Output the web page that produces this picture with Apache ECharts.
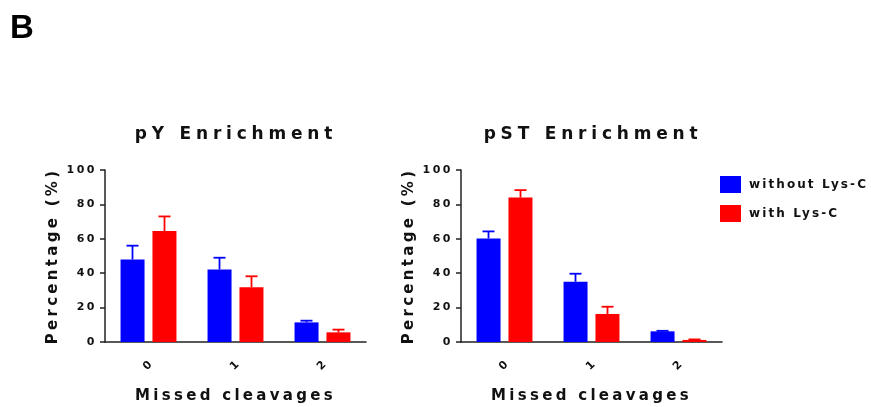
<!DOCTYPE html>
<html>
<head>
<meta charset="utf-8">
<script src="https://cdn.jsdelivr.net/npm/echarts@6/dist/echarts.min.js"></script>
<style>
  html, body { margin: 0; padding: 0; background: #fff; }
  #main { width: 871px; height: 407px; }
</style>
</head>
<body>
<div id="main"></div>
<script>
// data
const categories = ['0', '1', '2'];
const yTicks = [0, 20, 40, 60, 80, 100];

const pyWithout = [48, 42.2, 11.4];
const pyWithoutSd = [8, 6.8, 1];
const pyWith = [64.5, 31.8, 5.6];
const pyWithSd = [8.5, 6.4, 1.6];

const pstWithout = [60.2, 35, 6.2];
const pstWithoutSd = [4.1, 4.7, 0.3];
const pstWith = [84, 16.3, 1.2];
const pstWithSd = [4.3, 4.2, 0.3];

// the figure uses wide letter spacing (GraphPad style); canvas supports it natively
// gap in px keyed by font size
const LETTER_GAP = { 11: 2.5, 12: 2.1, 15: 3.3, 17: 4.8 };
['fillText', 'strokeText', 'measureText'].forEach(name => {
  const orig = CanvasRenderingContext2D.prototype[name];
  CanvasRenderingContext2D.prototype[name] = function () {
    const m = /(\d+)px/.exec(this.font);
    this.letterSpacing = ((m && LETTER_GAP[m[1]]) || 0) + 'px';
    return orig.apply(this, arguments);
  };
});

const FONT = "'DejaVu Sans', Verdana, sans-serif";
const BLUE = '#0000ff';
const RED = '#ff0000';
const AXIS = '#222';
const TEXT = '#111';

function xAxis(gridIndex) {
  return {
    type: 'category',
    gridIndex: gridIndex,
    data: categories,
    name: 'Missed cleavages',
    nameLocation: 'middle',
    nameGap: 45,
    nameTextStyle: { fontFamily: FONT, fontWeight: 'bold', fontSize: 15, color: TEXT },
    axisLine: { lineStyle: { color: AXIS, width: 1.5 } },
    axisTick: { alignWithLabel: true, length: 4, lineStyle: { color: AXIS, width: 1.5 } },
    axisLabel: {
      rotate: 45, align: 'center', verticalAlign: 'middle', margin: 23,
      fontFamily: FONT, fontWeight: 'bold', fontSize: 11, color: TEXT
    }
  };
}

function yAxis(gridIndex) {
  return {
    type: 'value',
    gridIndex: gridIndex,
    min: yTicks[0],
    max: yTicks[yTicks.length - 1],
    interval: yTicks[1] - yTicks[0],
    name: 'Percentage (%)',
    nameLocation: 'middle',
    nameGap: 43,
    nameTextStyle: { fontFamily: FONT, fontWeight: 'bold', fontSize: 15, color: TEXT },
    splitLine: { show: false },
    axisLine: { show: true, lineStyle: { color: AXIS, width: 1.5 } },
    axisTick: { show: true, length: 5, lineStyle: { color: AXIS, width: 1.5 } },
    axisLabel: { margin: 8, fontFamily: FONT, fontWeight: 'bold', fontSize: 11, color: TEXT }
  };
}

function bars(name, values, color, gridIndex) {
  return {
    name: name,
    type: 'bar',
    xAxisIndex: gridIndex,
    yAxisIndex: gridIndex,
    data: values,
    barWidth: 24,
    barGap: '33%',
    itemStyle: { color: color }
  };
}

// mean + SD whisker, shifted to sit over its bar in the group
function errorBars(name, values, sds, color, gridIndex, shift) {
  return {
    name: name + ' SD',
    type: 'custom',
    xAxisIndex: gridIndex,
    yAxisIndex: gridIndex,
    data: values.map((v, i) => [i, v, v + sds[i]]),
    encode: { x: 0, y: [1, 2] },
    z: 3,
    renderItem: function (params, api) {
      const low = api.coord([api.value(0), api.value(1)]);
      const high = api.coord([api.value(0), api.value(2)]);
      const x = low[0] + shift;
      const style = { stroke: color, lineWidth: 1.8 };
      return {
        type: 'group',
        children: [
          { type: 'line', shape: { x1: x, y1: low[1], x2: x, y2: high[1] }, style: style },
          { type: 'line', shape: { x1: x - 6, y1: high[1], x2: x + 6, y2: high[1] }, style: style }
        ]
      };
    }
  };
}

const chart = echarts.init(document.getElementById('main'));
const option = {
  animation: false,
  backgroundColor: '#fff',
  title: [
    { text: 'B', left: 10, top: 12, padding: 0,
      textStyle: { fontFamily: "'Liberation Sans', Arial, sans-serif", fontWeight: 'bold', fontSize: 33, color: '#000' } },
    { text: 'pY Enrichment', left: 236, top: 124, textAlign: 'center', padding: 0,
      textStyle: { fontFamily: FONT, fontWeight: 'bold', fontSize: 17, color: TEXT } },
    { text: 'pST Enrichment', left: 593, top: 124, textAlign: 'center', padding: 0,
      textStyle: { fontFamily: FONT, fontWeight: 'bold', fontSize: 17, color: TEXT } }
  ],
  legend: {
    orient: 'vertical',
    left: 720,
    top: 176,
    padding: 0,
    itemWidth: 21,
    itemHeight: 17,
    itemGap: 12,
    icon: 'rect',
    data: ['without Lys-C', 'with Lys-C'],
    textStyle: { fontFamily: FONT, fontWeight: 'bold', fontSize: 12, color: TEXT, padding: [0, 0, 0, 3] }
  },
  grid: [
    { left: 105, top: 170, width: 261, height: 172 },
    { left: 461, top: 170, width: 261, height: 172 }
  ],
  xAxis: [xAxis(0), xAxis(1)],
  yAxis: [yAxis(0), yAxis(1)],
  series: [
    bars('without Lys-C', pyWithout, BLUE, 0),
    bars('with Lys-C', pyWith, RED, 0),
    bars('without Lys-C', pstWithout, BLUE, 1),
    bars('with Lys-C', pstWith, RED, 1),
    errorBars('without Lys-C', pyWithout, pyWithoutSd, BLUE, 0, -16),
    errorBars('with Lys-C', pyWith, pyWithSd, RED, 0, 16),
    errorBars('without Lys-C', pstWithout, pstWithoutSd, BLUE, 1, -16),
    errorBars('with Lys-C', pstWith, pstWithSd, RED, 1, 16)
  ]
};
chart.setOption(option);
</script>
</body>
</html>
